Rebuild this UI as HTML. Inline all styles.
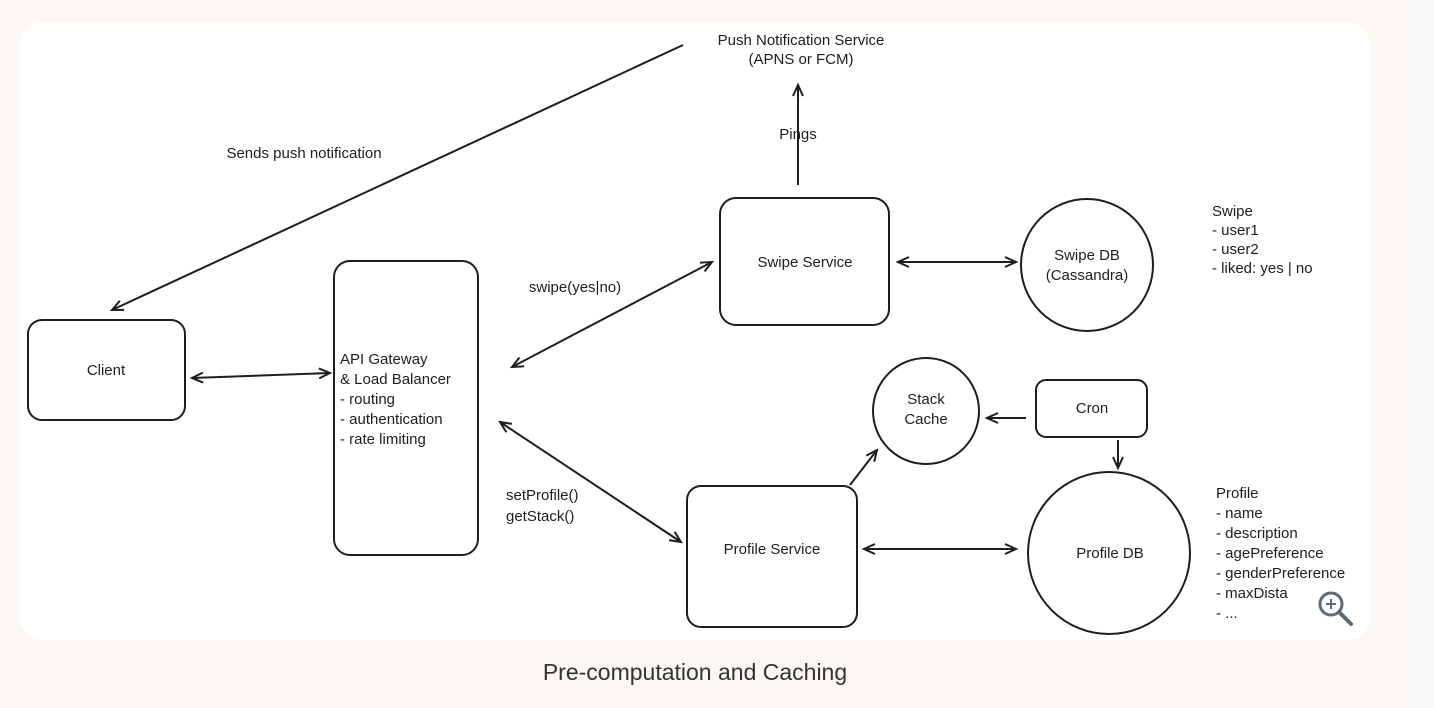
<!DOCTYPE html>
<html><head><style>
html,body{margin:0;padding:0;}
body{width:1434px;height:708px;background:#fbf8f3;position:relative;overflow:hidden;font-family:"Liberation Sans",sans-serif;}
.strip{position:absolute;left:1404px;top:0;width:30px;height:708px;background:#f9f9fa;}
.card{position:absolute;left:20px;top:22px;width:1350px;height:618px;background:#fff;border-radius:22px;}
.cap{position:absolute;left:0;width:1390px;top:659px;text-align:center;font-size:23px;color:#333;}
svg{position:absolute;left:0;top:0;}
text{font-family:"Liberation Sans",sans-serif;font-size:15px;fill:#1e1e1e;}
</style></head><body>
<div class="strip"></div>
<div class="card"></div>
<svg width="1434" height="708" viewBox="0 0 1434 708">
<defs>
<marker id="a" markerWidth="14" markerHeight="12" refX="12" refY="6" orient="auto-start-reverse" markerUnits="userSpaceOnUse">
<path d="M1,1 L12,6 L1,11" fill="none" stroke="#1e1e1e" stroke-width="2"/>
</marker>
</defs>
<g fill="none" stroke="#1e1e1e" stroke-width="2">
<rect x="28" y="320" width="157" height="100" rx="14"/>
<rect x="334" y="261" width="144" height="294" rx="16"/>
<rect x="720" y="198" width="169" height="127" rx="16"/>
<rect x="687" y="486" width="170" height="141" rx="14"/>
<circle cx="1087" cy="265" r="66"/>
<circle cx="926" cy="411" r="53"/>
<rect x="1036" y="380" width="111" height="57" rx="10"/>
<circle cx="1109" cy="553" r="81"/>
<g marker-start="url(#a)" marker-end="url(#a)">
<line x1="192" y1="378" x2="330" y2="373"/>
<line x1="512" y1="367" x2="712" y2="262"/>
<line x1="500" y1="422" x2="681" y2="542"/>
<line x1="898" y1="262" x2="1016" y2="262"/>
<line x1="864" y1="549" x2="1016" y2="549"/>
</g>
<g marker-end="url(#a)">
<line x1="850" y1="485" x2="877" y2="450"/>
<line x1="1026" y1="418" x2="987" y2="418"/>
<line x1="1118" y1="440" x2="1118" y2="468"/>
<line x1="798" y1="185" x2="798" y2="85"/>
<line x1="683" y1="45" x2="112" y2="310"/>
</g>
</g>
<text x="106" y="375" text-anchor="middle">Client</text>
<text x="340" y="364">API Gateway</text>
<text x="340" y="384">&amp; Load Balancer</text>
<text x="340" y="404">- routing</text>
<text x="340" y="424">- authentication</text>
<text x="340" y="444">- rate limiting</text>
<text x="805" y="267" text-anchor="middle">Swipe Service</text>
<text x="772" y="554" text-anchor="middle">Profile Service</text>
<text x="1087" y="260" text-anchor="middle">Swipe DB</text>
<text x="1087" y="280" text-anchor="middle">(Cassandra)</text>
<text x="926" y="404" text-anchor="middle">Stack</text>
<text x="926" y="424" text-anchor="middle">Cache</text>
<text x="1092" y="413" text-anchor="middle">Cron</text>
<text x="1110" y="558" text-anchor="middle">Profile DB</text>
<text x="801" y="45" text-anchor="middle">Push Notification Service</text>
<text x="801" y="64" text-anchor="middle">(APNS or FCM)</text>
<text x="798" y="139" text-anchor="middle">Pings</text>
<text x="304" y="158" text-anchor="middle">Sends push notification</text>
<text x="575" y="292" text-anchor="middle">swipe(yes|no)</text>
<text x="506" y="500">setProfile()</text>
<text x="506" y="521">getStack()</text>
<text x="1212" y="216">Swipe</text>
<text x="1212" y="235">- user1</text>
<text x="1212" y="254">- user2</text>
<text x="1212" y="273">- liked: yes | no</text>
<text x="1216" y="498">Profile</text>
<text x="1216" y="518">- name</text>
<text x="1216" y="538">- description</text>
<text x="1216" y="558">- agePreference</text>
<text x="1216" y="578">- genderPreference</text>
<text x="1216" y="598">- maxDista</text>
<text x="1216" y="618">- ...</text>
<circle cx="1331" cy="604" r="11" fill="#fff" stroke="#5f6b7a" stroke-width="3"/>
<line x1="1339" y1="612" x2="1351" y2="624" stroke="#5f6b7a" stroke-width="4" stroke-linecap="round"/>
<path d="M1326,604 h10 M1331,599 v10" stroke="#5f6b7a" stroke-width="2"/>
</svg>
<div class="cap">Pre-computation and Caching</div>
</body></html>
